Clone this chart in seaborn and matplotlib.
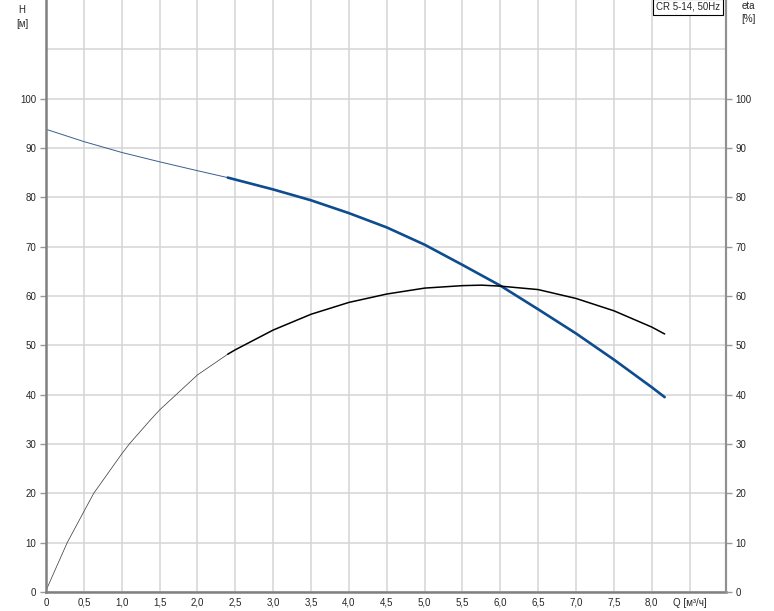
import matplotlib
matplotlib.use("Agg")
import matplotlib.pyplot as plt
import seaborn as sns
import pandas as pd

# ---- data ----
head_q = [0.0, 0.5, 1.0, 1.5, 2.0, 2.4, 2.5, 3.0, 3.5, 4.0, 4.5, 5.0, 5.5,
          6.0, 6.5, 7.0, 7.5, 8.0, 8.17]
head_values = [93.8, 91.3, 89.1, 87.2, 85.4, 84.0, 83.6, 81.6, 79.4, 76.8, 73.9,
               70.4, 66.3, 62.1, 57.3, 52.4, 47.1, 41.5, 39.5]
eta_q = [0.0, 0.28, 0.5, 0.63, 1.0, 1.10, 1.38, 1.5, 2.0, 2.4, 2.5, 3.0, 3.5,
         4.0, 4.5, 5.0, 5.5, 5.75, 6.0, 6.5, 7.0, 7.5, 8.0, 8.17]
eta_values = [0.3, 10.0, 16.3, 20.0, 28.0, 30.0, 34.9, 36.9, 44.0, 48.2, 49.1,
              53.1, 56.3, 58.7, 60.4, 61.6, 62.1, 62.2, 62.0, 61.3, 59.5, 57.0,
              53.7, 52.3]
duty_start_q = 2.4  # thick part of the curves starts here

x_ticks = [0, 0.5, 1.0, 1.5, 2.0, 2.5, 3.0, 3.5, 4.0, 4.5, 5.0, 5.5, 6.0, 6.5, 7.0, 7.5, 8.0, 8.5]
x_tick_labels = ["0", "0,5", "1,0", "1,5", "2,0", "2,5", "3,0", "3,5", "4,0", "4,5",
                 "5,0", "5,5", "6,0", "6,5", "7,0", "7,5", "8,0", "Q [м³/ч]"]
y_ticks = [0, 10, 20, 30, 40, 50, 60, 70, 80, 90, 100]
title_text = "CR 5-14, 50Hz"

dfh = pd.DataFrame({"Q": head_q, "H": head_values})
dfe = pd.DataFrame({"Q": eta_q, "eta": eta_values})
h_thin = dfh[dfh["Q"] <= duty_start_q]
h_thick = dfh[dfh["Q"] >= duty_start_q]
e_thin = dfe[dfe["Q"] <= duty_start_q]
e_thick = dfe[dfe["Q"] >= duty_start_q]

sns.set_style("white")
plt.rcParams["font.family"] = ["Liberation Sans", "DejaVu Sans"]

fig = plt.figure(figsize=(7.74, 6.11), dpi=100)
ax = fig.add_axes([46 / 774, 19 / 611, 680 / 774, 592 / 611])

blue = "#0d4c8e"
sns.lineplot(data=h_thin, x="Q", y="H", ax=ax, color="#3a5f8f", linewidth=0.7,
             estimator=None, sort=False)
sns.lineplot(data=h_thick, x="Q", y="H", ax=ax, color=blue, linewidth=1.9,
             estimator=None, sort=False)
sns.lineplot(data=e_thin, x="Q", y="eta", ax=ax, color="#444444", linewidth=0.55,
             estimator=None, sort=False)
sns.lineplot(data=e_thick, x="Q", y="eta", ax=ax, color="black", linewidth=1.1,
             estimator=None, sort=False)

ax.set_xlim(0, 8.98)
ax.set_ylim(0, 120)
ax.set_xticks(x_ticks)
ax.set_xticklabels(x_tick_labels, fontsize=7)
ax.set_yticks(y_ticks)
ax.set_yticklabels([str(v) for v in y_ticks], fontsize=7)
ax.set_yticks([110], minor=True)
ax.set_xlabel("")
ax.set_ylabel("")

ax.grid(True, which="both", color="#d4d4d4", linewidth=1.1)
ax.set_axisbelow(True)
ax.tick_params(axis="x", length=0, pad=4)
ax.tick_params(axis="y", which="major", length=4, width=1, color="#999999", pad=3)
ax.tick_params(axis="y", which="minor", length=0)

for side in ["left", "bottom"]:
    ax.spines[side].set_color("#808080")
    ax.spines[side].set_linewidth(1.8)
ax.spines["right"].set_color("#909090")
ax.spines["right"].set_linewidth(1.5)
ax.spines["top"].set_visible(False)

ax2 = ax.twinx()
ax2.set_ylim(0, 120)
ax2.set_yticks(y_ticks)
ax2.set_yticklabels([str(v) for v in y_ticks], fontsize=7)
ax2.tick_params(axis="y", length=4, width=1, color="#999999", pad=3)
for side in ["left", "top", "bottom"]:
    ax2.spines[side].set_visible(False)
ax2.spines["right"].set_color("#909090")
ax2.spines["right"].set_linewidth(1.5)
ax2.grid(False)

# axis titles
fig.text(22 / 774, 1 - 10 / 611, "H", ha="center", va="center", fontsize=7)
fig.text(22 / 774, 1 - 24 / 611, "[м]", ha="center", va="center", fontsize=7)
fig.text(748 / 774, 1 - 6 / 611, "eta", ha="center", va="center", fontsize=7)
fig.text(748 / 774, 1 - 19 / 611, "[%]", ha="center", va="center", fontsize=7)

# title box
ax.text(0.9915, 0.997, title_text, transform=ax.transAxes, ha="right", va="top",
        fontsize=7, bbox=dict(boxstyle="square,pad=0.33", facecolor="white",
                              edgecolor="black", linewidth=0.8), zorder=10)

fig.savefig("out.png", dpi=100)
